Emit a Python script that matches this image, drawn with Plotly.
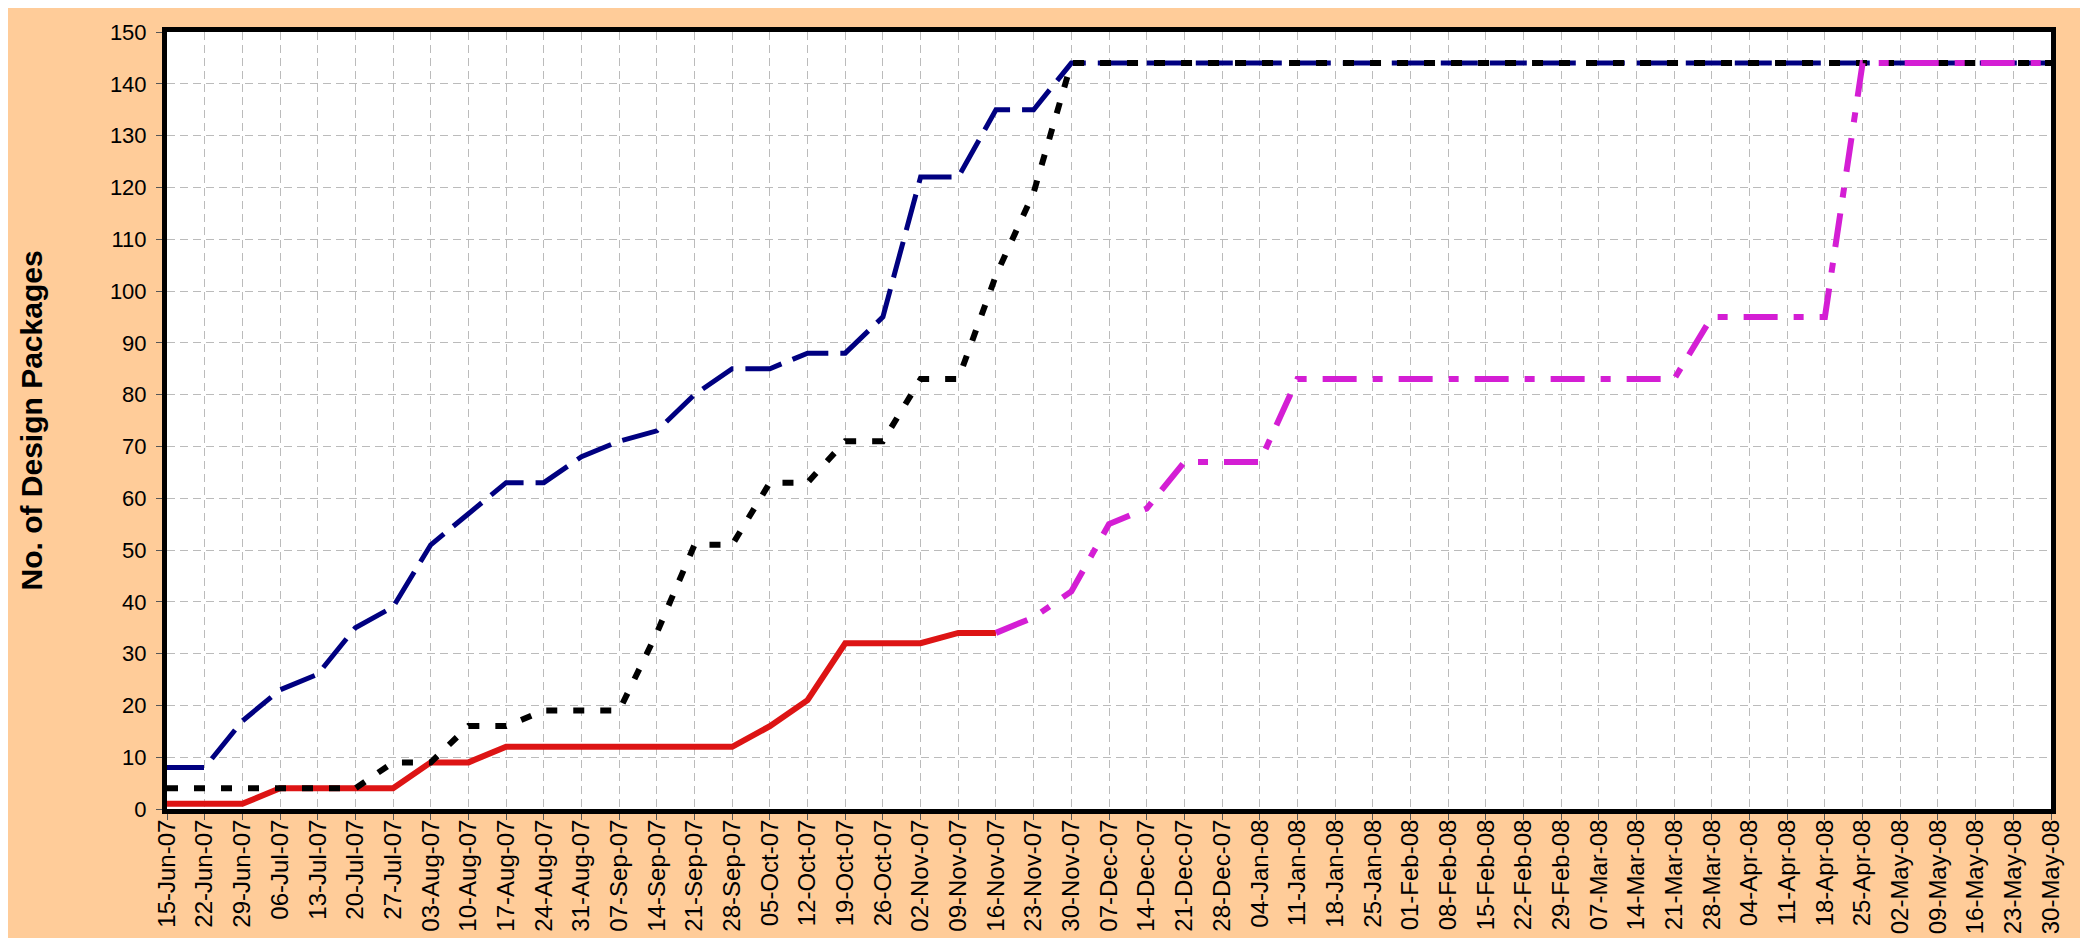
import plotly.graph_objects as go

dates = ["15-Jun-07", "22-Jun-07", "29-Jun-07", "06-Jul-07", "13-Jul-07", "20-Jul-07", "27-Jul-07",
         "03-Aug-07", "10-Aug-07", "17-Aug-07", "24-Aug-07", "31-Aug-07", "07-Sep-07", "14-Sep-07",
         "21-Sep-07", "28-Sep-07", "05-Oct-07", "12-Oct-07", "19-Oct-07", "26-Oct-07", "02-Nov-07",
         "09-Nov-07", "16-Nov-07", "23-Nov-07", "30-Nov-07", "07-Dec-07", "14-Dec-07", "21-Dec-07",
         "28-Dec-07", "04-Jan-08", "11-Jan-08", "18-Jan-08", "25-Jan-08", "01-Feb-08", "08-Feb-08",
         "15-Feb-08", "22-Feb-08", "29-Feb-08", "07-Mar-08", "14-Mar-08", "21-Mar-08", "28-Mar-08",
         "04-Apr-08", "11-Apr-08", "18-Apr-08", "25-Apr-08", "02-May-08", "09-May-08", "16-May-08",
         "23-May-08", "30-May-08"]

navy_series = [8, 8, 17, 23, 26, 35, 39, 51, 57, 63, 63, 68, 71, 73, 80, 85, 85, 88, 88, 95, 122,
               122, 135, 135, 144, 144, 144, 144, 144, 144, 144, 144, 144, 144, 144, 144, 144, 144,
               144, 144, 144, 144, 144, 144, 144, 144, 144, 144, 144, 144, 144]

black_series = [4, 4, 4, 4, 4, 4, 9, 9, 16, 16, 19, 19, 19, 34, 51, 51, 63, 63, 71, 71, 83,
                83, 103, 119, 144, 144, 144, 144, 144, 144, 144, 144, 144, 144, 144, 144, 144, 144,
                144, 144, 144, 144, 144, 144, 144, 144, 144, 144, 144, 144, 144]

red_series = [1, 1, 1, 4, 4, 4, 4, 9, 9, 12, 12, 12, 12, 12, 12, 12, 16, 21, 32, 32, 32,
              34, 34] + [None] * 28

magenta_series = [None] * 22 + [34, 37, 42, 55, 58, 67, 67, 67, 83, 83, 83, 83, 83, 83, 83, 83,
                                83, 83, 83, 95, 95, 95, 95, 144, 144, 144, 144, 144, 144]

y_ticks = list(range(0, 151, 10))

fig = go.Figure()
fig.add_trace(go.Scatter(x=dates, y=navy_series, mode="lines", name="Series A",
                         line=dict(color="#000080", width=5, dash="37px,12px")))
fig.add_trace(go.Scatter(x=dates, y=red_series, mode="lines", name="Series C",
                         line=dict(color="#DD1414", width=6)))
fig.add_trace(go.Scatter(x=dates, y=black_series, mode="lines", name="Series B",
                         line=dict(color="#000000", width=6, dash="11px,16px")))
fig.add_trace(go.Scatter(x=dates, y=magenta_series, mode="lines", name="Series D",
                         line=dict(color="#D41ED4", width=6, dash="34px,16px,10px,16px")))

font_family = "Liberation Sans, Arial, sans-serif"

fig.update_layout(
    width=2088, height=938,
    margin=dict(l=159, r=45, t=15, b=129),
    paper_bgcolor="#FFCC99",
    plot_bgcolor="#FFFFFF",
    showlegend=False,
    font=dict(family=font_family, color="#000000", size=20),
)

fig.update_xaxes(
    type="category", range=[0, len(dates) - 1],
    tickmode="array", tickvals=dates, ticktext=dates,
    tickangle=-90, tickfont=dict(size=24, family=font_family),
    showgrid=True, gridcolor="#BBBBBB", gridwidth=1, griddash="8px,5px",
    showline=True, linecolor="#000000", linewidth=5, mirror=True,
    ticks="outside", ticklen=6, tickcolor="#555555", tickwidth=1,
    ticklabelstandoff=-10,
    zeroline=False,
)
fig.update_yaxes(
    range=[0, 150], tickmode="array", tickvals=y_ticks,
    tickfont=dict(size=22, family=font_family),
    showgrid=True, gridcolor="#BBBBBB", gridwidth=1, griddash="8px,5px",
    showline=True, linecolor="#000000", linewidth=5, mirror=True,
    ticks="outside", ticklen=6, tickcolor="#555555", tickwidth=1,
    ticklabelstandoff=5,
    zeroline=False,
)

fig.add_annotation(
    text="<b>No. of Design Packages</b>", xref="paper", yref="paper",
    x=0, y=0.5, xanchor="center", yanchor="middle", xshift=-136,
    textangle=-90, showarrow=False,
    font=dict(size=30, family=font_family, color="#000000"),
)

fig.write_html("out.html")
